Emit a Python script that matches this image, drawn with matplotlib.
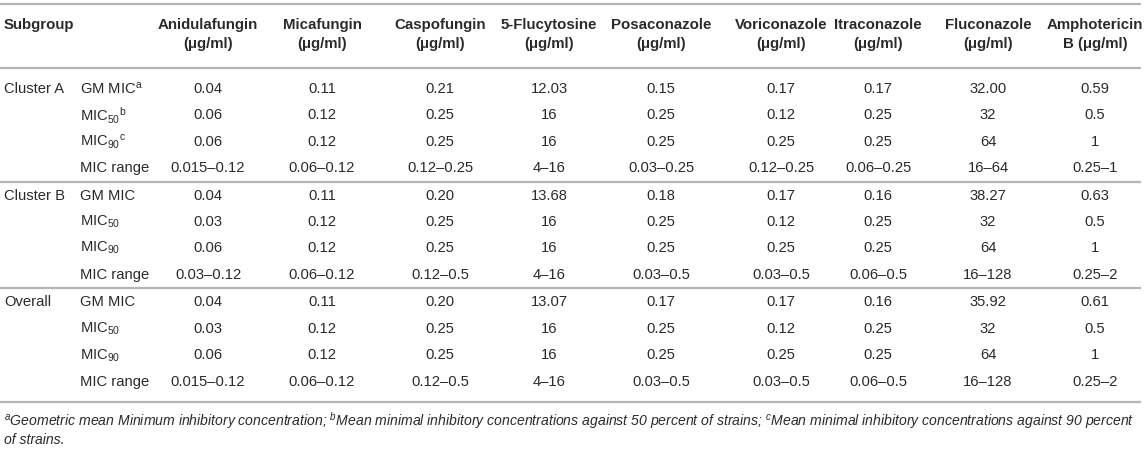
import matplotlib
matplotlib.use("Agg")
import matplotlib.pyplot as plt

plt.rcParams["font.family"] = ["Liberation Sans", "DejaVu Sans"]
plt.rcParams["mathtext.fontset"] = "custom"
plt.rcParams["mathtext.rm"] = "Liberation Sans"
plt.rcParams["mathtext.it"] = "Liberation Sans:italic"
plt.rcParams["mathtext.bf"] = "Liberation Sans:bold"

# --- table content ---
drugs = ["Anidulafungin", "Micafungin", "Caspofungin", "5-Flucytosine", "Posaconazole",
         "Voriconazole", "Itraconazole", "Fluconazole", "Amphotericin"]
units = ["(μg/ml)"] * 8 + ["B (μg/ml)"]
groups = ["Cluster A", "Cluster B", "Overall"]
stats_first = ["GM MIC$^{\\mathrm{a}}$", "MIC$_{50}$$^{\\mathrm{b}}$", "MIC$_{90}$$^{\\mathrm{c}}$", "MIC range"]
stats_other = ["GM MIC", "MIC$_{50}$", "MIC$_{90}$", "MIC range"]

cluster_a = [
    ["0.04", "0.11", "0.21", "12.03", "0.15", "0.17", "0.17", "32.00", "0.59"],
    ["0.06", "0.12", "0.25", "16", "0.25", "0.12", "0.25", "32", "0.5"],
    ["0.06", "0.12", "0.25", "16", "0.25", "0.25", "0.25", "64", "1"],
    ["0.015–0.12", "0.06–0.12", "0.12–0.25", "4–16", "0.03–0.25", "0.12–0.25", "0.06–0.25", "16–64", "0.25–1"],
]
cluster_b = [
    ["0.04", "0.11", "0.20", "13.68", "0.18", "0.17", "0.16", "38.27", "0.63"],
    ["0.03", "0.12", "0.25", "16", "0.25", "0.12", "0.25", "32", "0.5"],
    ["0.06", "0.12", "0.25", "16", "0.25", "0.25", "0.25", "64", "1"],
    ["0.03–0.12", "0.06–0.12", "0.12–0.5", "4–16", "0.03–0.5", "0.03–0.5", "0.06–0.5", "16–128", "0.25–2"],
]
overall = [
    ["0.04", "0.11", "0.20", "13.07", "0.17", "0.17", "0.16", "35.92", "0.61"],
    ["0.03", "0.12", "0.25", "16", "0.25", "0.12", "0.25", "32", "0.5"],
    ["0.06", "0.12", "0.25", "16", "0.25", "0.25", "0.25", "64", "1"],
    ["0.015–0.12", "0.06–0.12", "0.12–0.5", "4–16", "0.03–0.5", "0.03–0.5", "0.06–0.5", "16–128", "0.25–2"],
]
footnote_1 = ("$^{a}$Geometric mean Minimum inhibitory concentration; $^{b}$Mean minimal inhibitory "
              "concentrations against 50 percent of strains; $^{c}$Mean minimal inhibitory "
              "concentrations against 90 percent")
footnote_2 = "of strains."

# --- layout (pixel coords) ---
col_x = [218, 322, 440, 549, 661, 781, 878, 988, 1095]
col_x[0] = 208
group_y0 = [89, 195.5, 302.5]
row_step = 26.4
rule_y = [4, 68, 182, 288, 402]
txt = "#2a2a2a"
rule_col = "#b4b4b4"
fs_head = 10.8
fs = 10.6

fig = plt.figure(figsize=(11.44, 4.5), dpi=100)
ax = fig.add_axes([0, 0, 1, 1])
ax.set_xlim(0, 1144)
ax.set_ylim(450, 0)
ax.axis("off")

for y in rule_y:
    ax.plot([0, 1141], [y, y], color=rule_col, lw=1.6, solid_capstyle="butt")

# header
ax.text(4, 25, "Subgroup", fontsize=fs_head, fontweight="bold", color=txt, ha="left", va="center")
for x, d, u in zip(col_x, drugs, units):
    ax.text(x, 25, d, fontsize=fs_head, fontweight="bold", color=txt, ha="center", va="center")
    ax.text(x, 44, u, fontsize=fs_head, fontweight="bold", color=txt, ha="center", va="center")

# body
for gi, (name, block) in enumerate(zip(groups, [cluster_a, cluster_b, overall])):
    labels = stats_first if gi == 0 else stats_other
    for ri, (lab, row) in enumerate(zip(labels, block)):
        y = group_y0[gi] + ri * row_step
        if ri == 0:
            ax.text(4, y, name, fontsize=fs, color=txt, ha="left", va="center")
        ax.text(80, y, lab, fontsize=fs, color=txt, ha="left", va="center")
        for x, v in zip(col_x, row):
            ax.text(x, y, v, fontsize=fs, color=txt, ha="center", va="center")

ax.text(4, 421, footnote_1, fontsize=10.1, style="italic", color=txt, ha="left", va="center")
ax.text(4, 440, footnote_2, fontsize=10.1, style="italic", color=txt, ha="left", va="center")

fig.savefig("out.png", dpi=100)
